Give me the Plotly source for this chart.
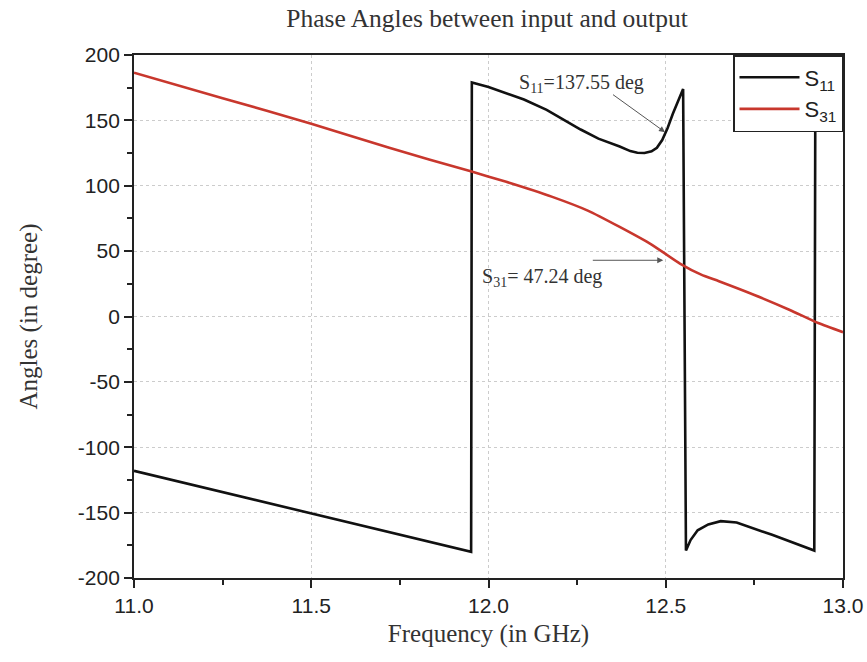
import plotly.graph_objects as go

# ---- data ----
s11_freq = [11.00, 11.20, 11.40, 11.60, 11.80, 11.951, 11.953, 12.00, 12.10, 12.164,
            12.26, 12.31, 12.37, 12.40, 12.42, 12.44, 12.46, 12.475, 12.49, 12.505,
            12.52, 12.535, 12.549, 12.557, 12.57, 12.59, 12.62, 12.655, 12.70, 12.80,
            12.919, 12.922, 13.00]
s11_deg = [-118, -131, -144, -157, -170, -180, 179, 175.6, 166, 158,
           143, 136, 130, 126.5, 125.2, 125, 126.3, 129, 135, 144,
           155, 165, 174, -179, -171, -163.5, -159, -156.5, -157.5, -167,
           -179, 178, 168]

s31_freq = [11.00, 11.25, 11.50, 11.72, 11.95, 12.05, 12.18, 12.28, 12.37,
            12.46, 12.54, 12.60, 12.65, 12.75, 12.85, 12.93, 13.00]
s31_deg = [186.5, 167, 147.5, 129, 111, 103, 91.5, 81, 68.5,
           55, 40.5, 32, 27, 16.5, 5, -5, -12]

x_ticks = [11.0, 11.5, 12.0, 12.5, 13.0]
y_ticks = [-200, -150, -100, -50, 0, 50, 100, 150, 200]

serif = "Liberation Serif, Times New Roman, serif"
sans = "Liberation Sans, Arial, sans-serif"

fig = go.Figure()
fig.add_trace(go.Scatter(x=s11_freq, y=s11_deg, mode="lines", name="S<sub>11</sub>",
                         line=dict(color="#111111", width=2.6)))
fig.add_trace(go.Scatter(x=s31_freq, y=s31_deg, mode="lines", name="S<sub>31</sub>",
                         line=dict(color="#c8372d", width=2.6, shape="spline", smoothing=0.6)))

# annotation texts
fig.add_annotation(x=12.08, y=178, xref="x", yref="y", text="S<sub>11</sub>=137.55 deg",
                   showarrow=False, xanchor="left", yanchor="middle",
                   font=dict(family=serif, size=20, color="#333333"))
fig.add_annotation(x=11.976, y=30, xref="x", yref="y", text="S<sub>31</sub>= 47.24 deg",
                   showarrow=False, xanchor="left", yanchor="middle",
                   font=dict(family=serif, size=20, color="#333333"))
# arrows
fig.add_annotation(x=12.498, y=141, ax=12.347, ay=170.5, xref="x", yref="y",
                   axref="x", ayref="y", text="", showarrow=True, arrowhead=2,
                   arrowsize=1.2, arrowwidth=1, arrowcolor="#555555")
fig.add_annotation(x=12.493, y=43, ax=12.29, ay=43, xref="x", yref="y",
                   axref="x", ayref="y", text="", showarrow=True, arrowhead=2,
                   arrowsize=1.2, arrowwidth=1, arrowcolor="#555555")

fig.update_layout(
    width=867, height=662,
    margin=dict(l=134, r=24, t=55, b=84, autoexpand=False),
    paper_bgcolor="white", plot_bgcolor="white",
    title=dict(text="Phase Angles between input and output", xref="container", x=0.5617,
               xanchor="center", y=0.972, yanchor="middle",
               font=dict(family=serif, size=25.5, color="#333333")),
    showlegend=True,
    legend=dict(x=1, y=1, xanchor="right", yanchor="top", bgcolor="white",
                bordercolor="#222222", borderwidth=1.5, itemwidth=60,
                font=dict(family=sans, size=22, color="#222222"),
                tracegroupgap=0),
    xaxis=dict(range=[11.0, 13.0], tickvals=x_ticks, ticktext=[f"{v:.1f}" for v in x_ticks],
               automargin=False,
               ticks="outside", ticklen=8, tickwidth=1.5, tickcolor="#222",
               minor=dict(dtick=0.25, tick0=11.0, ticks="outside", ticklen=5, tickcolor="#222", showgrid=False),
               showline=True, linecolor="#222", linewidth=1.8, mirror=True,
               showgrid=True, gridcolor="#cccccc", griddash="dot", gridwidth=1,
               zeroline=False,
               tickfont=dict(family=sans, size=21, color="#222222"),
               title=dict(text="Frequency (in GHz)", standoff=8,
                          font=dict(family=serif, size=25, color="#333333"))),
    yaxis=dict(range=[-200, 200], tickvals=y_ticks, ticktext=[str(v) for v in y_ticks],
               automargin=False,
               ticks="outside", ticklen=8, tickwidth=1.5, tickcolor="#222",
               minor=dict(dtick=25, tick0=0, ticks="outside", ticklen=5, tickcolor="#222", showgrid=False),
               showline=True, linecolor="#222", linewidth=1.8, mirror=True,
               showgrid=True, gridcolor="#cccccc", griddash="dot", gridwidth=1,
               zeroline=False,
               tickfont=dict(family=sans, size=21, color="#222222"),
               title=dict(text="Angles (in degree)", standoff=33,
                          font=dict(family=serif, size=25, color="#333333"))),
)

fig.write_html("out.html")
